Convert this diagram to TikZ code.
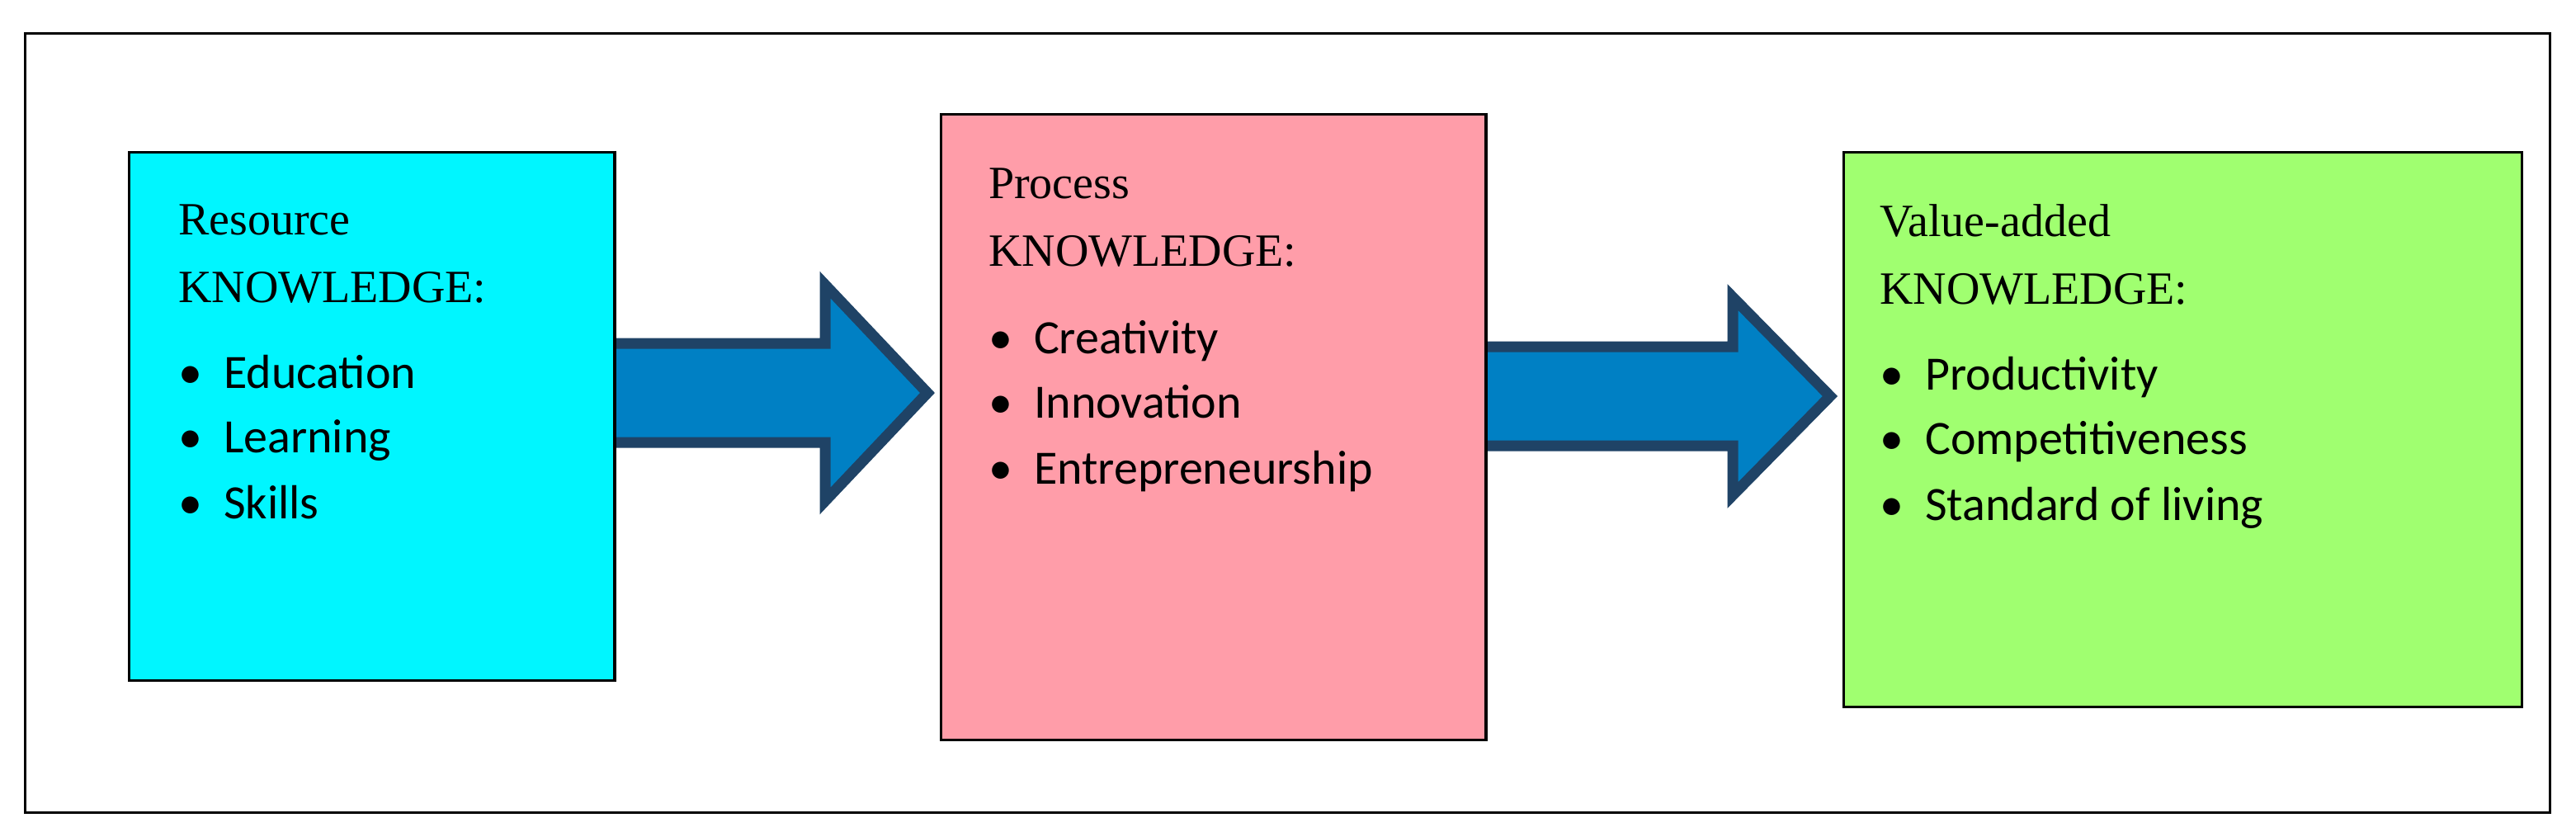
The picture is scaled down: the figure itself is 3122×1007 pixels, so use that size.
\documentclass[tikz,border=0pt]{standalone}
\usepackage{fontspec}
\setmainfont{Liberation Serif}
\newfontfamily\bulletfont{Carlito}
\begin{document}
\begin{tikzpicture}[x=1pt,y=-1pt,
  box/.style={draw=black,line width=3pt,inner sep=0pt},
  head/.style={anchor=base west,inner sep=0pt,font=\fontsize{56}{60}\selectfont},
  item/.style={anchor=base west,inner sep=0pt,font=\bulletfont\fontsize{58}{62}\selectfont}]
\useasboundingbox (0,0) rectangle (3122,1007);
\fill[white] (0,0) rectangle (3122,1007);
\draw[line width=3pt] (30,40) rectangle (3090,984);
\definecolor{acol}{HTML}{0080C4}
\definecolor{aedge}{HTML}{1F4366}
\node[box,fill={rgb,255:red,0;green,246;blue,255},minimum width=588pt,minimum height=640pt] (b1) at (450,504) {};
\node[box,fill={rgb,255:red,255;green,157;blue,169},minimum width=660pt,minimum height=758pt] (b2) at (1470,517) {};
\node[box,fill={rgb,255:red,160;green,255;blue,112},minimum width=822pt,minimum height=672pt] (b3) at (2645,520) {};
\draw[fill=acol,draw=aedge,line width=13pt,miter limit=10] (b1.east|-0,416) -- (1000,416) -- (1000,345) -- (1124,476) -- (1000,607) -- (1000,536) -- (b1.east|-0,536);
\draw[fill=acol,draw=aedge,line width=13pt,miter limit=10] (b2.east|-0,420) -- (2100,420) -- (2100,360) -- (2218,480) -- (2100,600) -- (2100,540) -- (b2.east|-0,540);
\draw[line width=3pt] (b1.north east) -- (b1.south east);
\draw[line width=3pt] (b2.north east) -- (b2.south east);
% box 1
\node[head] (r1) at (216,284) {Resource};
\node[head] (r2) at (216,366) {KNOWLEDGE:};
\node[item] (r3) at (216,470) {•\hspace{26pt}Education};
\node[item] (r4) at (216,548) {•\hspace{26pt}Learning};
\node[item] (r5) at (216,628) {•\hspace{26pt}Skills};
% box 2
\node[head] (p1) at (1198,240) {Process};
\node[head] (p2) at (1198,322) {KNOWLEDGE:};
\node[item] (p3) at (1198,428) {•\hspace{26pt}Creativity};
\node[item] (p4) at (1198,506) {•\hspace{26pt}Innovation};
\node[item] (p5) at (1198,586) {•\hspace{26pt}Entrepreneurship};
% box 3
\node[head] (v1) at (2278,286) {Value-added};
\node[head] (v2) at (2278,368) {KNOWLEDGE:};
\node[item] (v3) at (2278,472) {•\hspace{26pt}Productivity};
\node[item] (v4) at (2278,550) {•\hspace{26pt}Competitiveness};
\node[item] (v5) at (2278,630) {•\hspace{26pt}Standard of living};
\end{tikzpicture}
\end{document}
